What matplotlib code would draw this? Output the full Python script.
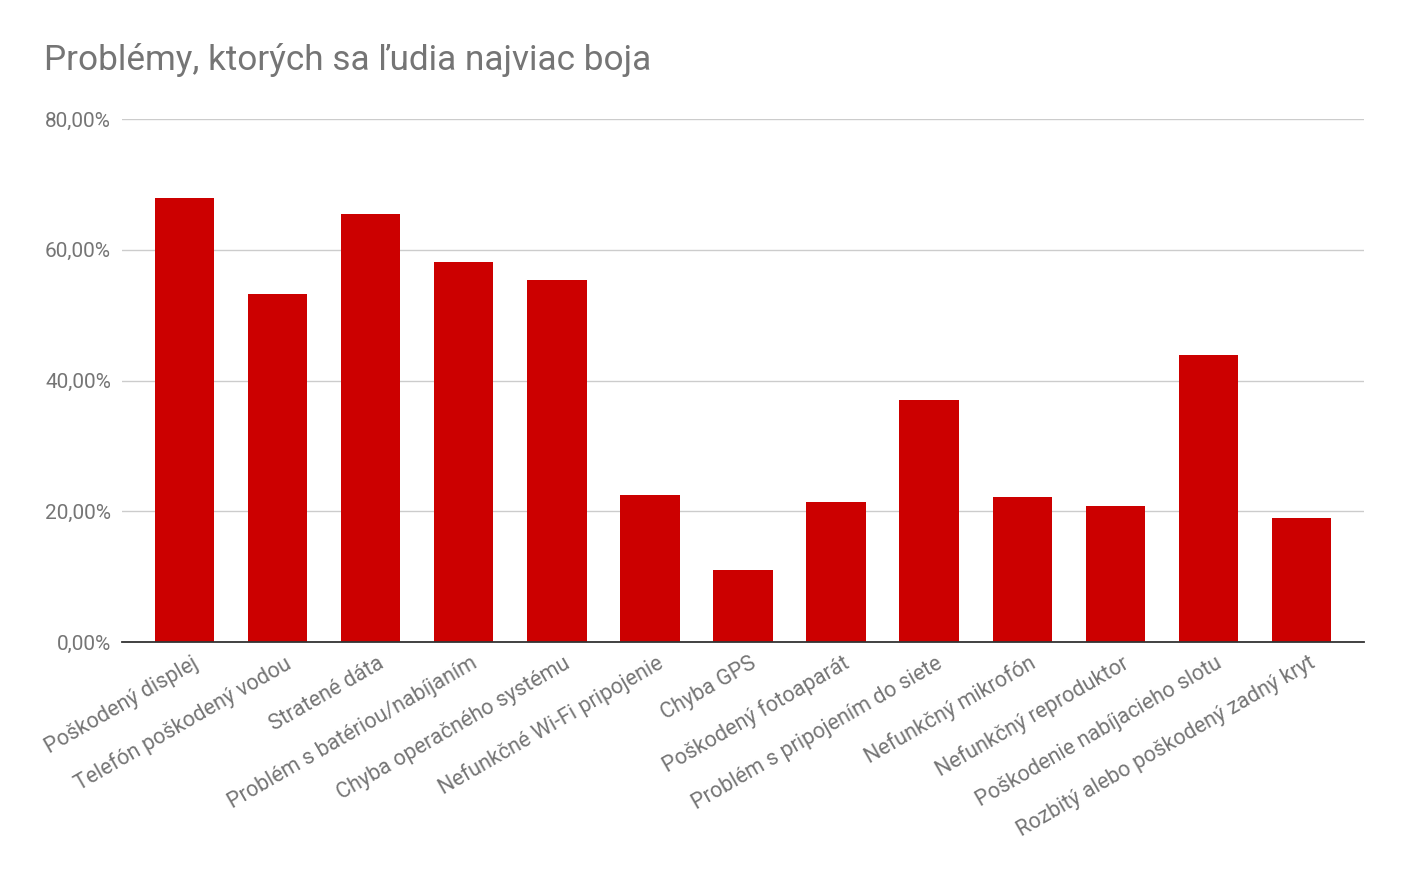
import matplotlib.pyplot as plt
from matplotlib.ticker import FuncFormatter
from matplotlib.transforms import ScaledTranslation

categories = [
    "Poškodený displej",
    "Telefón poškodený vodou",
    "Stratené dáta",
    "Problém s batériou/nabíjaním",
    "Chyba operačného systému",
    "Nefunkčné Wi-Fi pripojenie",
    "Chyba GPS",
    "Poškodený fotoaparát",
    "Problém s pripojením do siete",
    "Nefunkčný mikrofón",
    "Nefunkčný reproduktor",
    "Poškodenie nabíjacieho slotu",
    "Rozbitý alebo poškodený zadný kryt",
]
values = [67.9, 53.2, 65.5, 58.1, 55.4, 22.5, 11.0, 21.4, 37.0, 22.2, 20.8, 43.9, 19.0]
yticks = [0, 20, 40, 60, 80]

plt.rcParams['font.family'] = ['Roboto', 'DejaVu Sans']
grey = '#757575'

fig = plt.figure(figsize=(14.08, 8.74), dpi=100)
ax = fig.add_axes([122 / 1408, 1 - 642 / 874, (1364 - 122) / 1408, (642 - 119) / 874])

x = list(range(len(categories)))
ax.bar(x, values, width=0.64, color='#cc0000', zorder=3)

ax.set_xlim(-0.67, len(categories) - 0.33)
ax.set_ylim(0, 80)
ax.set_yticks(yticks)
ax.yaxis.set_major_formatter(FuncFormatter(lambda v, p: f"{v:.2f}%".replace('.', ',')))
ax.grid(axis='y', color='#cccccc', linewidth=1, zorder=0)
ax.set_xticks(x)
ax.set_xticklabels([])

# category labels: end just right of the bar centre, slanted 30 degrees
off = ax.get_xaxis_transform() + ScaledTranslation(12 / 100, -20 / 100, fig.dpi_scale_trans)
for i, name in enumerate(categories):
    ax.text(i, 0, name, transform=off, rotation=30, ha='right', va='center',
            rotation_mode='anchor', fontsize=15.5, color=grey)

for s in ['top', 'right', 'left']:
    ax.spines[s].set_visible(False)
ax.spines['bottom'].set_color('#333333')
ax.spines['bottom'].set_linewidth(1.3)
ax.spines['bottom'].set_zorder(4)
ax.tick_params(axis='both', length=0, labelcolor=grey)
ax.tick_params(axis='y', pad=8, labelsize=15)

fig.text(44 / 1408, 1 - 60 / 874, "Problémy, ktorých sa ľudia najviac boja",
         fontsize=25.3, color=grey, va='center', ha='left')

fig.savefig('out.png', dpi=100)
